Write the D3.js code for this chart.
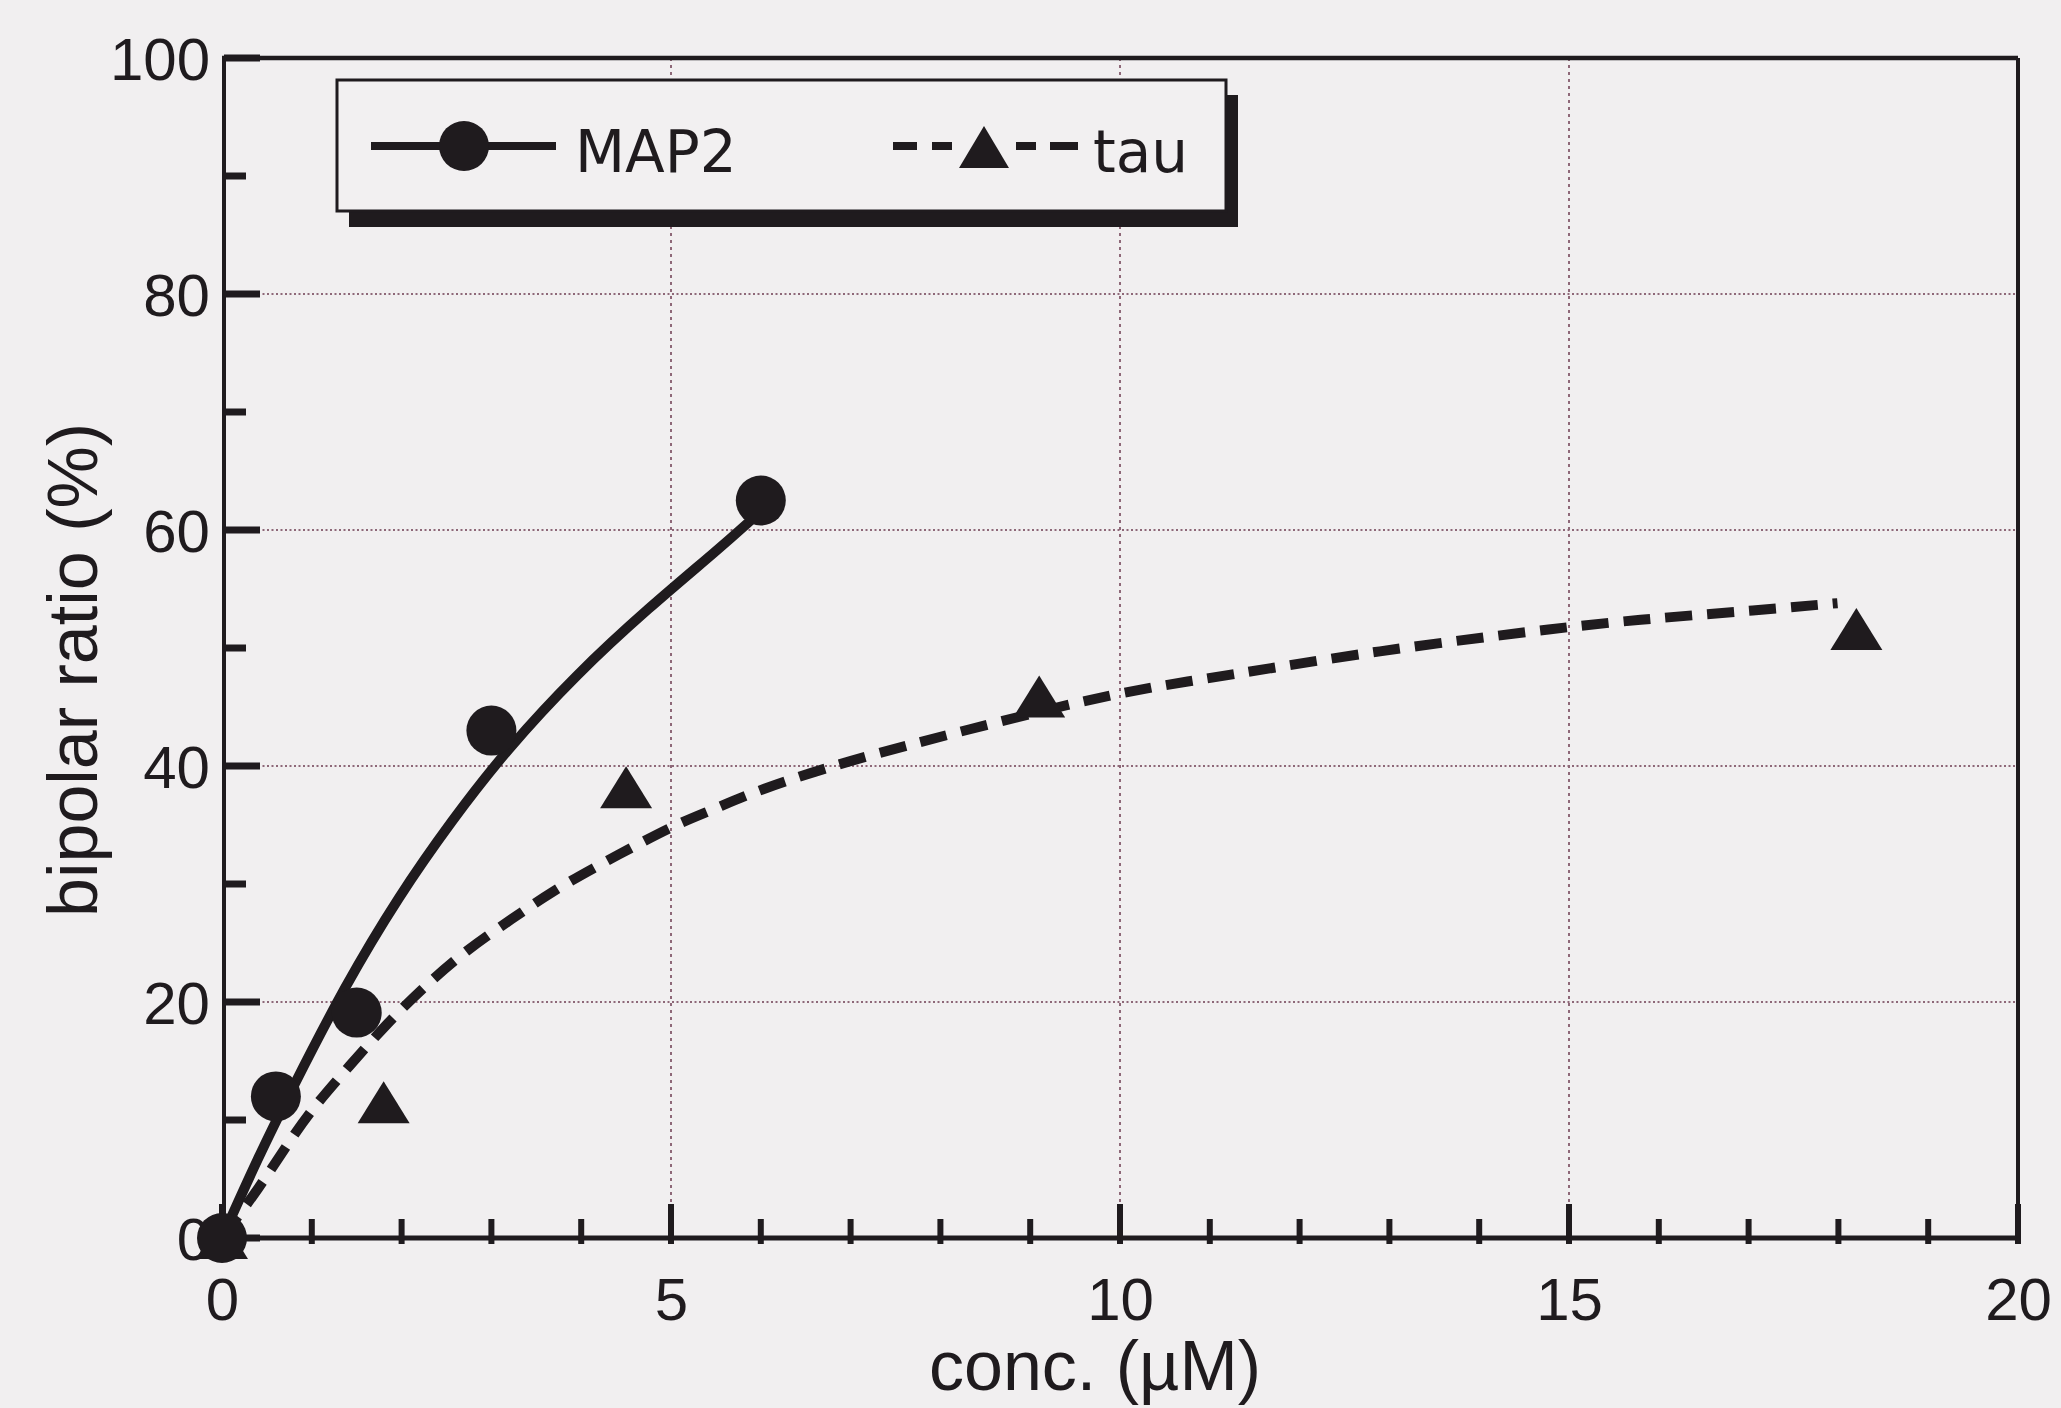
<!DOCTYPE html>
<html>
<head>
<meta charset="utf-8">
<script src="https://cdn.jsdelivr.net/npm/d3@7/dist/d3.min.js"></script>
<style>
  html, body { margin: 0; padding: 0; background: #f1eff0; }
  svg { display: block; }
</style>
</head>
<body>
<script>
// ---- data ----
const xTicks = [0, 5, 10, 15, 20];
const xMinorTicks = [1,2,3,4,6,7,8,9,11,12,13,14,16,17,18,19];
const yTicks = [0, 20, 40, 60, 80, 100];
const yMinorTicks = [10, 30, 50, 70, 90];
const xGrid = [5, 10, 15];
const yGrid = [20, 40, 60, 80];

const map2X = [0, 0.6, 1.5, 3.0, 6.0];
const map2Y = [0, 12.0, 19.1, 43.0, 62.5];
const tauX = [0, 1.8, 4.5, 9.1, 18.2];
const tauY = [0, 11.5, 38.2, 45.9, 51.6];

// fitted curves
const map2FitX = [0, 0.4, 0.77, 1.37, 1.97, 2.56, 3.16, 3.95, 4.75, 5.55, 5.9];
const map2FitY = [0, 6.8, 12.5, 21.4, 29.0, 35.4, 41.3, 47.8, 53.4, 58.5, 60.9];
const tauFitX = [0, 0.42, 0.75, 1.03, 1.41, 1.85, 2.28, 2.72, 3.24, 3.66, 4.15, 4.59, 5.07, 5.47, 5.98, 6.95, 8.26, 9.98, 11.23, 12.79, 14.98, 15.92, 17.09, 17.99];
const tauFitY = [0, 4.3, 8.2, 11.2, 14.5, 18.3, 21.5, 24.4, 27.1, 29.3, 31.4, 33.2, 35.1, 36.3, 38.0, 40.4, 43.0, 46.3, 47.7, 49.7, 51.8, 52.5, 53.2, 53.8];

const seriesNames = ["MAP2", "tau"];
const xTitle = "conc. (\u00B5M)";
const yTitle = "bipolar ratio (%)";

// ---- drawing ----
const W = 2061, H = 1408;
const ink = "#1f1b1e";
const gridCol = "#8e6878";
const svg = d3.select("body").append("svg").attr("width", W).attr("height", H);
svg.append("rect").attr("width", W).attr("height", H).attr("fill", "#f1eff0");

const x = d3.scaleLinear().domain([0, 20]).range([222, 2018]);
const y = d3.scaleLinear().domain([0, 100]).range([1238, 58]);

// grid
const g = svg.append("g");
g.selectAll(".hg").data(yGrid).join("line")
  .attr("x1", x(0) + 36).attr("x2", x(20))
  .attr("y1", d => y(d)).attr("y2", d => y(d))
  .attr("stroke", gridCol).attr("stroke-width", 2).attr("stroke-dasharray", "2,2.5");
g.selectAll(".vg").data(xGrid).join("line")
  .attr("x1", d => x(d)).attr("x2", d => x(d))
  .attr("y1", y(100)).attr("y2", y(0) - 34)
  .attr("stroke", gridCol).attr("stroke-width", 2).attr("stroke-dasharray", "3,4");

// frame
svg.append("line").attr("x1", x(0)).attr("x2", x(20)).attr("y1", y(100)).attr("y2", y(100))
  .attr("stroke", ink).attr("stroke-width", 4.5);
svg.append("line").attr("x1", x(20)).attr("x2", x(20)).attr("y1", y(100)).attr("y2", y(0))
  .attr("stroke", ink).attr("stroke-width", 4);

// x axis
const xAxis = d3.axisBottom(x).tickValues(xTicks).tickSize(0).tickPadding(0).tickFormat(d3.format("d"));
const gx = svg.append("g").attr("transform", `translate(0,${y(0)})`).call(xAxis);
gx.select(".domain").remove();
gx.selectAll("text").attr("font-family", "'Liberation Sans', Arial, sans-serif")
  .attr("font-size", 60).attr("fill", ink).attr("dy", null).attr("y", 82);
gx.append("line").attr("x1", x(0)).attr("x2", x(20)).attr("y1", 0).attr("y2", 0)
  .attr("stroke", ink).attr("stroke-width", 5);
gx.selectAll(".maj").data(xTicks).join("line")
  .attr("x1", d => x(d)).attr("x2", d => x(d)).attr("y1", 6).attr("y2", -34)
  .attr("stroke", ink).attr("stroke-width", 6);
gx.selectAll(".min").data(xMinorTicks).join("line")
  .attr("x1", d => x(d)).attr("x2", d => x(d)).attr("y1", 6).attr("y2", -19)
  .attr("stroke", ink).attr("stroke-width", 6);

// y axis
const yAxis = d3.axisLeft(y).tickValues(yTicks).tickSize(0).tickPadding(0).tickFormat(d3.format("d"));
const gy = svg.append("g").attr("transform", `translate(${x(0) + 2},0)`).call(yAxis);
gy.select(".domain").remove();
gy.selectAll("text").attr("font-family", "'Liberation Sans', Arial, sans-serif")
  .attr("font-size", 60).attr("fill", ink).attr("x", -14).attr("dy", "0.36em");
gy.append("line").attr("x1", 0).attr("x2", 0).attr("y1", y(100) - 2).attr("y2", y(0))
  .attr("stroke", ink).attr("stroke-width", 4);
gy.selectAll(".maj").data(yTicks).join("line")
  .attr("x1", 0).attr("x2", 36).attr("y1", d => y(d)).attr("y2", d => y(d))
  .attr("stroke", ink).attr("stroke-width", 7);
gy.selectAll(".min").data(yMinorTicks).join("line")
  .attr("x1", 0).attr("x2", 22).attr("y1", d => y(d)).attr("y2", d => y(d))
  .attr("stroke", ink).attr("stroke-width", 7);

// axis titles
svg.append("text").attr("x", 1095).attr("y", 1390).attr("text-anchor", "middle")
  .attr("font-family", "'Liberation Sans', Arial, sans-serif").attr("font-size", 70)
  .attr("fill", ink).text(xTitle);
svg.append("text").attr("transform", "translate(97,670) rotate(-90)").attr("text-anchor", "middle")
  .attr("font-family", "'Liberation Sans', Arial, sans-serif").attr("font-size", 70)
  .attr("fill", ink).text(yTitle);

// curves
const lineSmooth = d3.line().x(d => x(d[0])).y(d => y(d[1])).curve(d3.curveBasis);
svg.append("path").datum(map2FitX.map((v, i) => [v, map2FitY[i]]))
  .attr("d", lineSmooth).attr("fill", "none").attr("stroke", ink).attr("stroke-width", 10);
svg.append("path").datum(tauFitX.map((v, i) => [v, tauFitY[i]]))
  .attr("d", lineSmooth)
  .attr("fill", "none").attr("stroke", ink).attr("stroke-width", 10)
  .attr("stroke-dasharray", "27,15");

// markers
const tri = (cx, cy, hw, h) => `M${cx - hw},${cy + h / 2}L${cx + hw},${cy + h / 2}L${cx},${cy - h / 2}Z`;
svg.selectAll(".tri").data(tauX.map((v, i) => [v, tauY[i]])).join("path")
  .attr("d", d => tri(x(d[0]), y(d[1]), 26, 42)).attr("fill", ink);
svg.selectAll(".dot").data(map2X.map((v, i) => [v, map2Y[i]])).join("circle")
  .attr("cx", d => x(d[0])).attr("cy", d => y(d[1])).attr("r", 25).attr("fill", ink);

// legend
const lg = svg.append("g");
lg.append("rect").attr("x", 349).attr("y", 95).attr("width", 889).attr("height", 132).attr("fill", ink);
lg.append("rect").attr("x", 337).attr("y", 80).attr("width", 889).attr("height", 131)
  .attr("fill", "#f2f0f1").attr("stroke", ink).attr("stroke-width", 3);
lg.append("line").attr("x1", 371).attr("x2", 556).attr("y1", 146).attr("y2", 146)
  .attr("stroke", ink).attr("stroke-width", 8);
lg.append("circle").attr("cx", 464).attr("cy", 146).attr("r", 25).attr("fill", ink);
lg.append("text").attr("x", 575).attr("y", 172).attr("font-family", "'DejaVu Sans', sans-serif")
  .attr("font-size", 58).attr("fill", ink).text(seriesNames[0]);
lg.append("line").attr("x1", 893).attr("x2", 1078).attr("y1", 146).attr("y2", 146)
  .attr("stroke", ink).attr("stroke-width", 8).attr("stroke-dasharray", "24,15,20,64,20,14,28");
lg.append("path").attr("d", tri(984, 147, 25, 42)).attr("fill", ink);
lg.append("text").attr("x", 1093).attr("y", 172).attr("font-family", "'DejaVu Sans', sans-serif")
  .attr("font-size", 58).attr("fill", ink).text(seriesNames[1]);
</script>
</body>
</html>
